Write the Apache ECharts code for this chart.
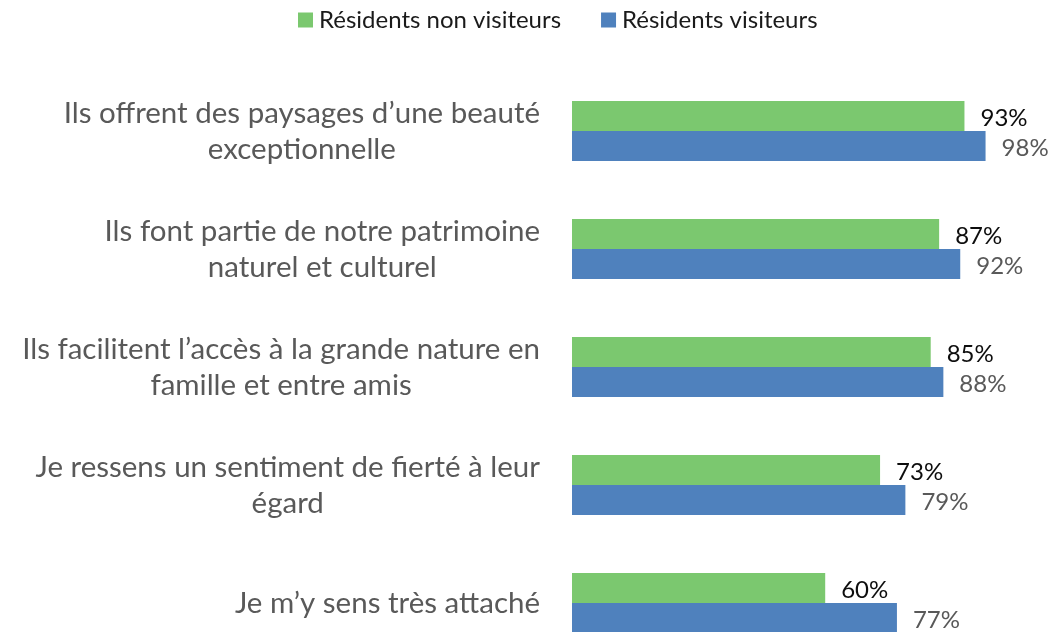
<!DOCTYPE html>
<html>
<head>
<meta charset="utf-8">
<script src="https://cdn.jsdelivr.net/npm/echarts@6/dist/echarts.min.js"></script>
<style>
html,body{margin:0;padding:0;background:#fff;}
#chart{width:1059px;height:632px;}
</style>
</head>
<body>
<div id="chart"></div>
<script>
const categories = [
  "Ils offrent des paysages d\u2019une beauté\nexceptionnelle",
  "Ils font partie de notre patrimoine\nnaturel et culturel",
  "Ils facilitent l\u2019accès à la grande nature en\nfamille et entre amis",
  "Je ressens un sentiment de fierté à leur\négard",
  "Je m\u2019y sens très attaché"
];
const seriesNames = ["Résidents non visiteurs", "Résidents visiteurs"];
const nonVisiteurs = [93, 87, 85, 73, 60];
const visiteurs = [98, 92, 88, 79, 77];

const FONT = 'Lato';
const chart = echarts.init(document.getElementById('chart'));
chart.setOption({
  animation: false,
  backgroundColor: '#fff',
  textStyle: { fontFamily: FONT },
  legend: {
    top: 3,
    left: 293,
    itemWidth: 15,
    itemHeight: 15,
    itemGap: 40,
    icon: 'rect',
    textStyle: { fontSize: 24, color: '#1a1a1a', fontFamily: FONT, padding: [0, 0, 0, 1] },
    data: seriesNames
  },
  grid: { left: 572, width: 422, top: 131, height: 472 },
  xAxis: {
    type: 'value', min: 0, max: 100, show: false
  },
  yAxis: {
    type: 'category',
    inverse: true,
    boundaryGap: false,
    data: categories,
    axisLine: { show: false },
    axisTick: { show: false },
    splitLine: { show: false },
    axisLabel: {
      margin: 32,
      align: 'right',
      formatter: function (v) {
        return v.split('\n').map(function (l) { return '{c|' + l + '}'; }).join('\n');
      },
      rich: {
        c: { align: 'center', fontSize: 29.5, color: '#595959', fontFamily: FONT, lineHeight: 36 }
      }
    }
  },
  series: [
    {
      name: seriesNames[0], type: 'bar', data: nonVisiteurs,
      barWidth: 30, barGap: '0%',
      itemStyle: { color: '#7BC86F' },
      label: { show: true, position: 'right', distance: 16, formatter: '{c}%', fontSize: 24, color: '#0d0d0d', fontFamily: FONT, offset: [0, 2] }
    },
    {
      name: seriesNames[1], type: 'bar', data: visiteurs,
      barWidth: 30, barGap: '0%',
      itemStyle: { color: '#4F81BD' },
      label: { show: true, position: 'right', distance: 16, formatter: '{c}%', fontSize: 24, color: '#595959', fontFamily: FONT, offset: [0, 2] }
    }
  ]
});
</script>
</body>
</html>
